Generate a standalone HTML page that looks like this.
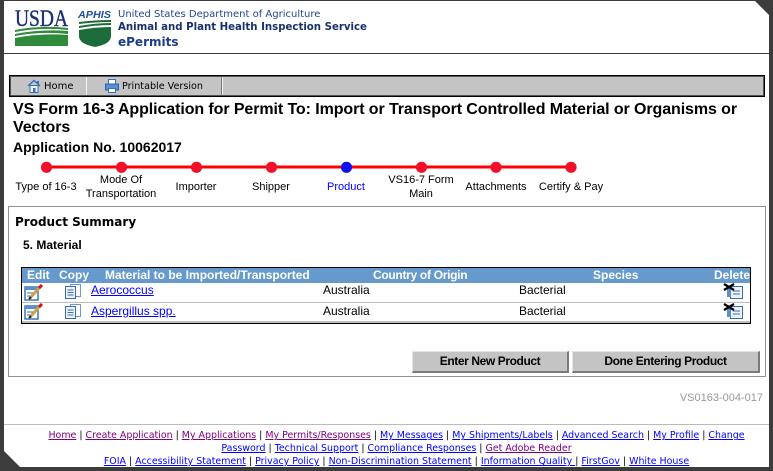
<!DOCTYPE html>
<html><head><meta charset="utf-8">
<style>
*{margin:0;padding:0;box-sizing:border-box}
html,body{width:773px;height:471px;overflow:hidden;background:#fff}
body{position:relative;font-family:"Liberation Sans",Arial,sans-serif;color:#000}
.a{position:absolute;white-space:nowrap}
.v{font-family:"DejaVu Sans","Liberation Sans",sans-serif}
.lbl{position:absolute;width:110px;text-align:center;font-size:11px;line-height:14px;white-space:nowrap}
.th{position:absolute;top:268px;font-weight:bold;font-size:12px;line-height:15px;color:#fff;white-space:nowrap}
.td{position:absolute;font-size:12px;line-height:14px;white-space:nowrap}
.lk{color:#0000ff;text-decoration:underline}
.btn{position:absolute;top:351px;height:22px;background:#c4c4c4;border-top:1px solid #e6e6e6;border-left:1px solid #e6e6e6;border-right:2px solid #7a7a7a;border-bottom:2px solid #7a7a7a;font-weight:bold;font-size:12px;letter-spacing:-0.4px;line-height:19px;text-align:center}
.ft{position:absolute;left:30px;width:733px;text-align:center;font-size:9.45px;line-height:13px;white-space:nowrap}
.ft a{text-decoration:underline;color:#0000ff}
.ft a.p{color:#800080}
</style></head><body>

<!-- header logos -->
<svg class="a" style="left:15px;top:9px" width="55" height="39" viewBox="0 0 55 39">
  <text x="0" y="17" font-family="Liberation Serif,serif" font-size="23" fill="#1f2f72" stroke="#1f2f72" stroke-width="0.4" textLength="53" lengthAdjust="spacingAndGlyphs">USDA</text>
  <path d="M0 21 Q26 16 53 19 L53 21 Q26 18 0 23Z" fill="#2f8a3c"/>
  <path d="M0 25 Q26 20 53 22 L53 25 Q26 22 0 27Z" fill="#2f8a3c"/>
  <path d="M0 29 Q26 24 53 26 L53 37 L0 37Z" fill="#2f8a3c"/>
</svg>
<svg class="a" style="left:78px;top:9px" width="35" height="40" viewBox="0 0 35 40">
  <text x="0" y="9" font-family="Liberation Sans,sans-serif" font-weight="bold" font-style="italic" font-size="10.5" fill="#1f4fa0" textLength="33" lengthAdjust="spacingAndGlyphs">APHIS</text>
  <path d="M1 13 Q17 11 33 11 L33 13 Q17 13 1 15Z" fill="#1d6a3a"/>
  <path d="M1 17 Q17 14 33 14 L33 16 Q17 16 1 19Z" fill="#1d6a3a"/>
  <path d="M1 21 Q17 18 33 18 L33 27 Q33 35 17 38 Q1 35 1 27Z" fill="#1d6a3a"/>
</svg>
<div class="a v" style="left:118px;top:8.5px;font-size:10px;line-height:12px;color:#24449a">United States Department of Agriculture</div>
<div class="a v" style="left:118px;top:21.5px;font-size:10.2px;line-height:12px;font-weight:bold;color:#1b2f6e">Animal and Plant Health Inspection Service</div>
<div class="a v" style="left:118px;top:34.5px;font-size:12px;line-height:14px;font-weight:bold;color:#1f3c8c">ePermits</div>
<div class="a" style="left:4px;top:53px;width:765px;height:1px;background:#3c3c3c"></div>

<!-- nav bar -->
<div class="a" style="left:9px;top:75px;width:756px;height:22px;background:#c4c4c4;border:1px solid #000;box-shadow:inset 0 0 0 1px #555"></div>
<div class="a" style="left:86px;top:77px;width:1px;height:18px;background:#f2f2f2"></div>
<div class="a" style="left:221px;top:77px;width:1px;height:18px;background:#777"></div>
<div class="a" style="left:222px;top:77px;width:1px;height:18px;background:#f2f2f2"></div>
<svg class="a" style="left:27px;top:79px" width="14" height="14" viewBox="0 0 14 14">
  <path d="M1 7 L7 1.5 L13 7" fill="none" stroke="#3a6db8" stroke-width="1.4"/>
  <rect x="3" y="6.5" width="8" height="7" fill="#eef3fb" stroke="#3a6db8"/>
  <rect x="6" y="9" width="2.5" height="4.5" fill="#3a6db8"/>
  <rect x="10" y="2" width="2" height="3" fill="#3a6db8"/>
</svg>
<div class="a v" style="left:44px;top:80.5px;font-size:10px;line-height:12px">Home</div>
<svg class="a" style="left:105px;top:79px" width="14" height="14" viewBox="0 0 14 14">
  <rect x="3.5" y="0.5" width="7" height="5" fill="#fff" stroke="#3a6db8"/>
  <rect x="0.5" y="5" width="13" height="6" fill="#5b8fd0" stroke="#2f5e9f"/>
  <rect x="3.5" y="9.5" width="7" height="4" fill="#fff" stroke="#3a6db8"/>
</svg>
<div class="a v" style="left:122px;top:80.5px;font-size:9.6px;line-height:12px">Printable Version</div>

<!-- titles -->
<div class="a" style="left:13px;top:101px;font-size:16px;line-height:18px;font-weight:bold;letter-spacing:-0.09px">VS Form 16-3 Application for Permit To: Import or Transport Controlled Material or Organisms or<br>Vectors</div>
<div class="a" style="left:13px;top:139px;font-size:14px;line-height:16px;font-weight:bold">Application No. 10062017</div>

<!-- progress -->
<svg class="a" style="left:0;top:155px" width="600" height="25" viewBox="0 155 600 25">
  <line x1="46" y1="167" x2="571" y2="167" stroke="#ff0000" stroke-width="3"/>
  <circle cx="46.5" cy="167.3" r="5.6" fill="#f0102a"/>
  <circle cx="121.5" cy="167.3" r="5.6" fill="#f0102a"/>
  <circle cx="196.5" cy="167.3" r="5.6" fill="#f0102a"/>
  <circle cx="271.5" cy="167.3" r="5.6" fill="#f0102a"/>
  <circle cx="346.5" cy="167.3" r="5.6" fill="#1010ee"/>
  <circle cx="421.5" cy="167.3" r="5.6" fill="#f0102a"/>
  <circle cx="496" cy="167.3" r="5.6" fill="#f0102a"/>
  <circle cx="571" cy="167.3" r="5.6" fill="#f0102a"/>
</svg>
<div class="lbl" style="left:-9px;top:180px">Type of 16-3</div>
<div class="lbl" style="left:66px;top:173px">Mode Of<br>Transportation</div>
<div class="lbl" style="left:141px;top:180px">Importer</div>
<div class="lbl" style="left:216px;top:180px">Shipper</div>
<div class="lbl" style="left:291px;top:180px;color:#0000ff">Product</div>
<div class="lbl" style="left:366px;top:173px">VS16-7 Form<br>Main</div>
<div class="lbl" style="left:441px;top:180px">Attachments</div>
<div class="lbl" style="left:516px;top:180px">Certify &amp; Pay</div>

<!-- content box -->
<div class="a" style="left:8px;top:206px;width:758px;height:171px;border:1px solid #929292"></div>
<div class="a v" style="left:15px;top:214px;font-size:12px;line-height:16px;font-weight:bold">Product Summary</div>
<div class="a" style="left:23px;top:238px;font-size:12px;line-height:14px;font-weight:bold">5. Material</div>

<!-- table -->
<div class="a" style="left:21px;top:267px;width:730px;height:57px;border:1px solid #000;background:#fff"></div>
<div class="a" style="left:22px;top:268px;width:728px;height:15px;background:#6699cc"></div>
<div class="a" style="left:22px;top:302px;width:728px;height:1px;background:#bdbdbd"></div>
<div class="a" style="left:22px;top:321px;width:728px;height:2px;background:#bdbdbd"></div>
<div class="th" style="left:27px">Edit</div>
<div class="th" style="left:59px">Copy</div>
<div class="th" style="left:105px">Material to be Imported/Transported</div>
<div class="th" style="left:373px;letter-spacing:-0.3px">Country of Origin</div>
<div class="th" style="left:593px">Species</div>
<div class="th" style="left:714px">Delete</div>

<svg class="a" style="left:24px;top:284px" width="20" height="17" viewBox="0 0 20 17">
  <rect x="1" y="3" width="13" height="13" fill="#fff" stroke="#2f6db5" stroke-width="1.4"/>
  <rect x="1" y="3" width="13" height="3" fill="#5b8fd0"/>
  <line x1="3" y1="9" x2="10" y2="9" stroke="#2f6db5"/><line x1="3" y1="12" x2="9" y2="12" stroke="#2f6db5"/>
  <line x1="6" y1="14" x2="16" y2="3" stroke="#c9a24a" stroke-width="3"/>
  <line x1="15" y1="4" x2="18" y2="1" stroke="#d01010" stroke-width="3"/>
  <line x1="5" y1="15" x2="7" y2="13" stroke="#222" stroke-width="2"/>
</svg>
<svg class="a" style="left:65px;top:284px" width="17" height="15" viewBox="0 0 17 15">
  <rect x="5.5" y="0.5" width="10" height="12" fill="#fff" stroke="#6a98d0"/>
  <rect x="0.5" y="2.5" width="10" height="12" fill="#eef3fb" stroke="#3a6cb0"/>
  <line x1="2.5" y1="6" x2="8.5" y2="6" stroke="#3a6cb0"/><line x1="2.5" y1="8.5" x2="8.5" y2="8.5" stroke="#3a6cb0"/><line x1="2.5" y1="11" x2="8.5" y2="11" stroke="#3a6cb0"/>
</svg>
<div class="td lk" style="left:91px;top:283px">Aerococcus</div>
<div class="td" style="left:323px;top:283px">Australia</div>
<div class="td" style="left:519px;top:283px">Bacterial</div>
<svg class="a" style="left:723px;top:283px" width="21" height="16" viewBox="0 0 21 16">
  <rect x="7.5" y="3.5" width="12" height="12" fill="#eef3fb" stroke="#3a6cb0"/>
  <rect x="4" y="5" width="4" height="9" fill="#5b8fd0"/>
  <line x1="10" y1="8" x2="17" y2="8" stroke="#3a6cb0"/><line x1="10" y1="11" x2="17" y2="11" stroke="#3a6cb0"/>
  <path d="M1 1 L11 7 M11 1 L1 7" stroke="#000" stroke-width="2.2"/>
</svg>

<svg class="a" style="left:24px;top:303px" width="20" height="17" viewBox="0 0 20 17">
  <rect x="1" y="3" width="13" height="13" fill="#fff" stroke="#2f6db5" stroke-width="1.4"/>
  <rect x="1" y="3" width="13" height="3" fill="#5b8fd0"/>
  <line x1="3" y1="9" x2="10" y2="9" stroke="#2f6db5"/><line x1="3" y1="12" x2="9" y2="12" stroke="#2f6db5"/>
  <line x1="6" y1="14" x2="16" y2="3" stroke="#c9a24a" stroke-width="3"/>
  <line x1="15" y1="4" x2="18" y2="1" stroke="#d01010" stroke-width="3"/>
  <line x1="5" y1="15" x2="7" y2="13" stroke="#222" stroke-width="2"/>
</svg>
<svg class="a" style="left:65px;top:304px" width="17" height="15" viewBox="0 0 17 15">
  <rect x="5.5" y="0.5" width="10" height="12" fill="#fff" stroke="#6a98d0"/>
  <rect x="0.5" y="2.5" width="10" height="12" fill="#eef3fb" stroke="#3a6cb0"/>
  <line x1="2.5" y1="6" x2="8.5" y2="6" stroke="#3a6cb0"/><line x1="2.5" y1="8.5" x2="8.5" y2="8.5" stroke="#3a6cb0"/><line x1="2.5" y1="11" x2="8.5" y2="11" stroke="#3a6cb0"/>
</svg>
<div class="td lk" style="left:91px;top:304px">Aspergillus spp.</div>
<div class="td" style="left:323px;top:304px">Australia</div>
<div class="td" style="left:519px;top:304px">Bacterial</div>
<svg class="a" style="left:723px;top:303px" width="21" height="16" viewBox="0 0 21 16">
  <rect x="7.5" y="3.5" width="12" height="12" fill="#eef3fb" stroke="#3a6cb0"/>
  <rect x="4" y="5" width="4" height="9" fill="#5b8fd0"/>
  <line x1="10" y1="8" x2="17" y2="8" stroke="#3a6cb0"/><line x1="10" y1="11" x2="17" y2="11" stroke="#3a6cb0"/>
  <path d="M1 1 L11 7 M11 1 L1 7" stroke="#000" stroke-width="2.2"/>
</svg>

<!-- buttons -->
<div class="btn" style="left:412px;width:157px">Enter New Product</div>
<div class="btn" style="left:572px;width:188px">Done Entering Product</div>

<div class="a" style="right:10px;top:391px;font-size:11px;line-height:14px;color:#999">VS0163-004-017</div>

<!-- footer -->
<div class="a" style="left:4px;top:424px;width:765px;height:1px;background:#bbb"></div>
<div class="ft v" style="top:429.3px"><a class="p">Home</a> | <a class="p">Create Application</a> | <a class="p">My Applications</a> | <a class="p">My Permits/Responses</a> | <a>My Messages</a> | <a>My Shipments/Labels</a> | <a>Advanced Search</a> | <a>My Profile</a> | <a>Change</a></div>
<div class="ft v" style="top:442.3px"><a>Password</a> | <a>Technical Support</a> | <a>Compliance Responses</a> | <a class="p">Get Adobe Reader</a></div>
<div class="ft v" style="top:455.3px"><a>FOIA</a> | <a>Accessibility Statement</a> | <a>Privacy Policy</a> | <a>Non-Discrimination Statement</a> | <a>Information Quality </a> | <a>FirstGov</a> | <a>White House</a></div>

<!-- window frame -->
<svg class="a" style="left:0;top:0;pointer-events:none" width="773" height="471" viewBox="0 0 773 471">
  <rect x="0" y="0" width="773" height="1" fill="#3c3c3c"/>
  <rect x="0" y="0" width="4" height="471" fill="#3c3c3c"/>
  <rect x="769" y="0" width="4" height="471" fill="#3c3c3c"/>
  <rect x="0" y="467" width="773" height="4" fill="#3c3c3c"/>
  <polygon points="754,0 769,0 769,15" fill="#3c3c3c"/>
  <polygon points="4,451 4,467 20,467" fill="#3c3c3c"/>
</svg>
</body></html>
